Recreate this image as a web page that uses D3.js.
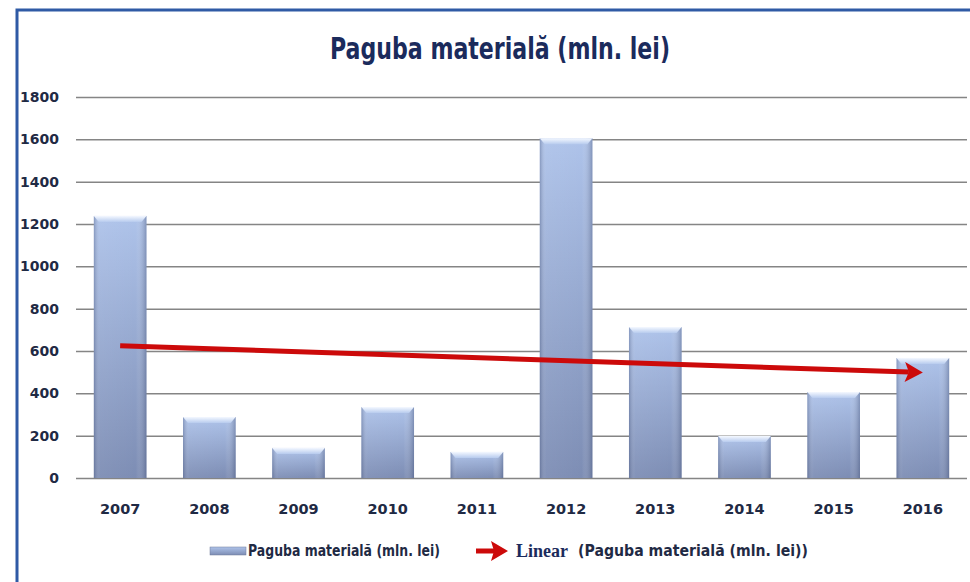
<!DOCTYPE html>
<html>
<head>
<meta charset="utf-8">
<title>Paguba materiala</title>
<script src="https://cdn.jsdelivr.net/npm/d3@7/dist/d3.min.js"></script>
<style>
  body { margin: 0; background: #fff; }
  svg { display: block; }
  .lbl { font-family: "DejaVu Sans", sans-serif; font-weight: bold; fill: #1f2a44; }
</style>
</head>
<body>
<svg width="970" height="582"></svg>
<script>
// data
var years = ["2007", "2008", "2009", "2010", "2011", "2012", "2013", "2014", "2015", "2016"];
var damage = [1238, 288, 142, 335, 123, 1605, 713, 198, 406, 567];
var yTicks = [0, 200, 400, 600, 800, 1000, 1200, 1400, 1600, 1800];
var titleText = "Paguba materială (mln. lei)";
var seriesName = "Paguba materială (mln. lei)";

var svg = d3.select("svg");
var margin = {top: 97, right: 3, bottom: 104, left: 76};
var width = 970 - margin.left - margin.right,
    height = 582 - margin.top - margin.bottom;

var defs = svg.append("defs");
var gv = defs.append("linearGradient").attr("id", "barV")
  .attr("x1", 0).attr("y1", 0).attr("x2", 0).attr("y2", 1);
gv.append("stop").attr("offset", "0%").attr("stop-color", "#aec3ea");
gv.append("stop").attr("offset", "100%").attr("stop-color", "#7d8db4");
var gh = defs.append("linearGradient").attr("id", "barH")
  .attr("x1", 0).attr("y1", 0).attr("x2", 1).attr("y2", 0);
gh.append("stop").attr("offset", "0%").attr("stop-color", "#3c4a70").attr("stop-opacity", 0.35);
gh.append("stop").attr("offset", "12%").attr("stop-color", "#ffffff").attr("stop-opacity", 0.05);
gh.append("stop").attr("offset", "80%").attr("stop-color", "#ffffff").attr("stop-opacity", 0);
gh.append("stop").attr("offset", "100%").attr("stop-color", "#3c4a70").attr("stop-opacity", 0.4);
var gt = defs.append("linearGradient").attr("id", "barTop")
  .attr("x1", 0).attr("y1", 0).attr("x2", 0).attr("y2", 1);
gt.append("stop").attr("offset", "0%").attr("stop-color", "#f4f8ff");
gt.append("stop").attr("offset", "100%").attr("stop-color", "#b7cbee");

// outer blue frame
svg.append("rect").attr("x", 17).attr("y", 10).attr("width", 1000).attr("height", 620)
  .attr("fill", "none").attr("stroke", "#2f5aa5").attr("stroke-width", 3);

svg.append("text").attr("class", "lbl")
  .attr("x", 330).attr("y", 59)
  .attr("textLength", 340).attr("lengthAdjust", "spacingAndGlyphs")
  .style("font-size", "30px").style("fill", "#1b2b5c")
  .text(titleText);

var g = svg.append("g").attr("transform", "translate(" + margin.left + "," + margin.top + ")");

var x = d3.scaleBand().domain(years).range([0, width]).paddingInner(0.41).paddingOuter(0.2);
var y = d3.scaleLinear().domain([0, 1800]).range([height, 0]);

// gridlines
g.append("g")
  .call(d3.axisLeft(y).tickValues(yTicks).tickSize(-width).tickFormat(""))
  .call(function(s) { s.select(".domain").remove(); })
  .selectAll("line").attr("stroke", "#858585").attr("stroke-width", 1.5);

// y labels
g.selectAll(".ylab").data(yTicks).enter().append("text")
  .attr("class", "lbl").attr("x", -17).attr("y", function(d) { return y(d); })
  .attr("dy", "0.35em").attr("text-anchor", "end").style("font-size", "14px")
  .text(function(d) { return d; });

// bars
var bars = g.selectAll(".bar").data(years).enter().append("g");
bars.append("rect")
  .attr("x", function(d) { return x(d); })
  .attr("y", function(d, i) { return y(damage[i]); })
  .attr("width", x.bandwidth())
  .attr("height", function(d, i) { return height - y(damage[i]); })
  .attr("fill", "url(#barV)");
bars.append("rect")
  .attr("x", function(d) { return x(d); })
  .attr("y", function(d, i) { return y(damage[i]); })
  .attr("width", x.bandwidth())
  .attr("height", function(d, i) { return height - y(damage[i]); })
  .attr("fill", "url(#barH)");
bars.append("path")
  .attr("d", function(d, i) {
    var x0 = x(d), x1 = x(d) + x.bandwidth(), t = y(damage[i]);
    return "M" + x0 + "," + t + "L" + x1 + "," + t + "L" + (x1 - 5) + "," + (t + 6) +
      "L" + (x0 + 5) + "," + (t + 6) + "Z";
  })
  .attr("fill", "url(#barTop)");

// x labels
g.selectAll(".xlab").data(years).enter().append("text")
  .attr("class", "lbl")
  .attr("x", function(d) { return x(d) + x.bandwidth() / 2; })
  .attr("y", height + 36).attr("text-anchor", "middle").style("font-size", "14.5px")
  .text(function(d) { return d; });

// linear trend (least squares, as Excel does)
var n = damage.length;
var mx = d3.mean(d3.range(n)), my = d3.mean(damage);
var slope = d3.sum(damage, function(v, i) { return (i - mx) * (v - my); }) /
            d3.sum(d3.range(n), function(i) { return (i - mx) * (i - mx); });
var trend = function(i) { return my + slope * (i - mx); };
var tx0 = x(years[0]) + x.bandwidth() / 2, ty0 = y(trend(0));
var tx1 = x(years[n - 1]) + x.bandwidth() / 2, ty1 = y(trend(n - 1));
var ang = Math.atan2(ty1 - ty0, tx1 - tx0);
var ex = tx1 - 14 * Math.cos(ang), ey = ty1 - 14 * Math.sin(ang);
g.append("line").attr("x1", tx0).attr("y1", ty0).attr("x2", ex).attr("y2", ey)
  .attr("stroke", "#cc0a0a").attr("stroke-width", 5);
g.append("path")
  .attr("d", "M0,0L-18,-10L-14,0L-18,10Z")
  .attr("transform", "translate(" + tx1 + "," + ty1 + ") rotate(" + (ang * 180 / Math.PI) + ")")
  .attr("fill", "#cc0a0a");

// legend
var leg = svg.append("g").attr("transform", "translate(0,551)");
leg.append("rect").attr("x", 210).attr("y", -4).attr("width", 36).attr("height", 8)
  .attr("fill", "url(#barV)").attr("stroke", "#6d7a99").attr("stroke-width", 0.5);
leg.append("text").attr("class", "lbl").attr("x", 248).attr("y", 0).attr("dy", "0.35em")
  .attr("textLength", 192).attr("lengthAdjust", "spacingAndGlyphs")
  .style("font-size", "15px").text(seriesName);
leg.append("line").attr("x1", 476).attr("y1", 0).attr("x2", 495).attr("y2", 0)
  .attr("stroke", "#cc0a0a").attr("stroke-width", 5);
leg.append("path").attr("d", "M508,0L491,-10L494,0L491,10Z").attr("fill", "#cc0a0a");
leg.append("text").attr("x", 516).attr("y", 0).attr("dy", "0.35em")
  .style("font-family", "'Liberation Serif', serif").style("font-weight", "bold")
  .style("font-size", "18px").style("fill", "#1b2b5c").text("Linear");
leg.append("text").attr("class", "lbl").attr("x", 578).attr("y", 0).attr("dy", "0.35em")
  .attr("textLength", 230).attr("lengthAdjust", "spacingAndGlyphs")
  .style("font-size", "15px").text("(" + seriesName + ")");
</script>
</body>
</html>
